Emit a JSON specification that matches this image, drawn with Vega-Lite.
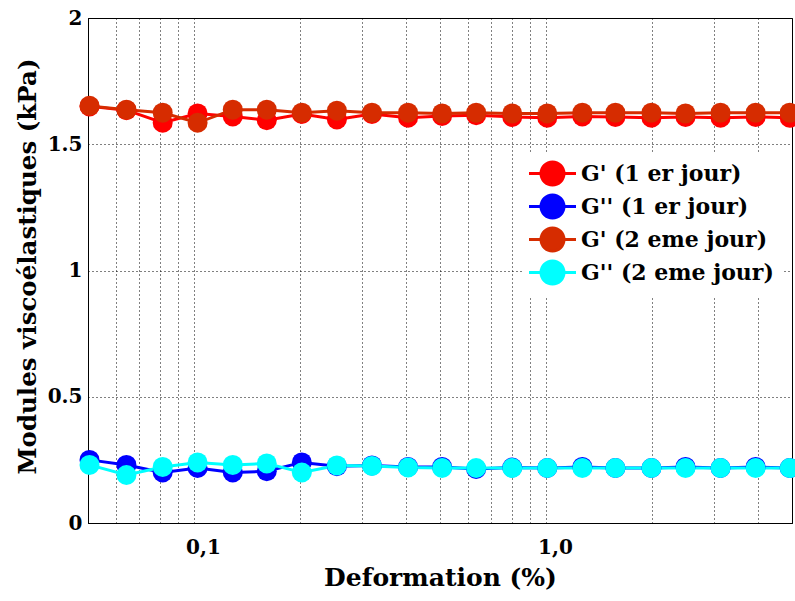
{
  "$schema": "https://vega.github.io/schema/vega-lite/v6.json",
  "width": 704,
  "height": 505,
  "autosize": {"type": "none"},
  "padding": {"left": 88, "top": 18, "right": 3, "bottom": 78},
  "background": "white",
  "config": {"view": {"stroke": "black", "strokeWidth": 1}, "font": "DejaVu Serif"},
  "data": {"values": [
    {"x": 0.0505, "v": 1.65, "s": "G' (1 er jour)"},
    {"x": 0.0643, "v": 1.635, "s": "G' (1 er jour)"},
    {"x": 0.0815, "v": 1.585, "s": "G' (1 er jour)"},
    {"x": 0.1024, "v": 1.622, "s": "G' (1 er jour)"},
    {"x": 0.1289, "v": 1.61, "s": "G' (1 er jour)"},
    {"x": 0.161, "v": 1.595, "s": "G' (1 er jour)"},
    {"x": 0.2025, "v": 1.62, "s": "G' (1 er jour)"},
    {"x": 0.2547, "v": 1.598, "s": "G' (1 er jour)"},
    {"x": 0.3204, "v": 1.62, "s": "G' (1 er jour)"},
    {"x": 0.4057, "v": 1.605, "s": "G' (1 er jour)"},
    {"x": 0.5069, "v": 1.612, "s": "G' (1 er jour)"},
    {"x": 0.6334, "v": 1.615, "s": "G' (1 er jour)"},
    {"x": 0.802, "v": 1.608, "s": "G' (1 er jour)"},
    {"x": 1.0086, "v": 1.605, "s": "G' (1 er jour)"},
    {"x": 1.2687, "v": 1.61, "s": "G' (1 er jour)"},
    {"x": 1.575, "v": 1.608, "s": "G' (1 er jour)"},
    {"x": 1.994, "v": 1.605, "s": "G' (1 er jour)"},
    {"x": 2.491, "v": 1.608, "s": "G' (1 er jour)"},
    {"x": 3.133, "v": 1.605, "s": "G' (1 er jour)"},
    {"x": 3.941, "v": 1.608, "s": "G' (1 er jour)"},
    {"x": 4.925, "v": 1.605, "s": "G' (1 er jour)"},
    {"x": 0.0505, "v": 0.25, "s": "G'' (1 er jour)"},
    {"x": 0.0643, "v": 0.23, "s": "G'' (1 er jour)"},
    {"x": 0.0815, "v": 0.2, "s": "G'' (1 er jour)"},
    {"x": 0.1024, "v": 0.218, "s": "G'' (1 er jour)"},
    {"x": 0.1289, "v": 0.2, "s": "G'' (1 er jour)"},
    {"x": 0.161, "v": 0.205, "s": "G'' (1 er jour)"},
    {"x": 0.2025, "v": 0.24, "s": "G'' (1 er jour)"},
    {"x": 0.2547, "v": 0.225, "s": "G'' (1 er jour)"},
    {"x": 0.3204, "v": 0.228, "s": "G'' (1 er jour)"},
    {"x": 0.4057, "v": 0.222, "s": "G'' (1 er jour)"},
    {"x": 0.5069, "v": 0.222, "s": "G'' (1 er jour)"},
    {"x": 0.6334, "v": 0.214, "s": "G'' (1 er jour)"},
    {"x": 0.802, "v": 0.22, "s": "G'' (1 er jour)"},
    {"x": 1.0086, "v": 0.218, "s": "G'' (1 er jour)"},
    {"x": 1.2687, "v": 0.222, "s": "G'' (1 er jour)"},
    {"x": 1.575, "v": 0.218, "s": "G'' (1 er jour)"},
    {"x": 1.994, "v": 0.218, "s": "G'' (1 er jour)"},
    {"x": 2.491, "v": 0.222, "s": "G'' (1 er jour)"},
    {"x": 3.133, "v": 0.218, "s": "G'' (1 er jour)"},
    {"x": 3.941, "v": 0.222, "s": "G'' (1 er jour)"},
    {"x": 4.925, "v": 0.218, "s": "G'' (1 er jour)"},
    {"x": 0.0505, "v": 1.652, "s": "G' (2 eme jour)"},
    {"x": 0.0643, "v": 1.637, "s": "G' (2 eme jour)"},
    {"x": 0.0815, "v": 1.625, "s": "G' (2 eme jour)"},
    {"x": 0.1024, "v": 1.585, "s": "G' (2 eme jour)"},
    {"x": 0.1289, "v": 1.637, "s": "G' (2 eme jour)"},
    {"x": 0.161, "v": 1.637, "s": "G' (2 eme jour)"},
    {"x": 0.2025, "v": 1.625, "s": "G' (2 eme jour)"},
    {"x": 0.2547, "v": 1.633, "s": "G' (2 eme jour)"},
    {"x": 0.3204, "v": 1.625, "s": "G' (2 eme jour)"},
    {"x": 0.4057, "v": 1.625, "s": "G' (2 eme jour)"},
    {"x": 0.5069, "v": 1.622, "s": "G' (2 eme jour)"},
    {"x": 0.6334, "v": 1.625, "s": "G' (2 eme jour)"},
    {"x": 0.802, "v": 1.622, "s": "G' (2 eme jour)"},
    {"x": 1.0086, "v": 1.622, "s": "G' (2 eme jour)"},
    {"x": 1.2687, "v": 1.625, "s": "G' (2 eme jour)"},
    {"x": 1.575, "v": 1.625, "s": "G' (2 eme jour)"},
    {"x": 1.994, "v": 1.625, "s": "G' (2 eme jour)"},
    {"x": 2.491, "v": 1.622, "s": "G' (2 eme jour)"},
    {"x": 3.133, "v": 1.625, "s": "G' (2 eme jour)"},
    {"x": 3.941, "v": 1.625, "s": "G' (2 eme jour)"},
    {"x": 4.925, "v": 1.625, "s": "G' (2 eme jour)"},
    {"x": 0.0505, "v": 0.23, "s": "G'' (2 eme jour)"},
    {"x": 0.0643, "v": 0.19, "s": "G'' (2 eme jour)"},
    {"x": 0.0815, "v": 0.222, "s": "G'' (2 eme jour)"},
    {"x": 0.1024, "v": 0.24, "s": "G'' (2 eme jour)"},
    {"x": 0.1289, "v": 0.23, "s": "G'' (2 eme jour)"},
    {"x": 0.161, "v": 0.236, "s": "G'' (2 eme jour)"},
    {"x": 0.2025, "v": 0.2, "s": "G'' (2 eme jour)"},
    {"x": 0.2547, "v": 0.228, "s": "G'' (2 eme jour)"},
    {"x": 0.3204, "v": 0.226, "s": "G'' (2 eme jour)"},
    {"x": 0.4057, "v": 0.22, "s": "G'' (2 eme jour)"},
    {"x": 0.5069, "v": 0.218, "s": "G'' (2 eme jour)"},
    {"x": 0.6334, "v": 0.218, "s": "G'' (2 eme jour)"},
    {"x": 0.802, "v": 0.218, "s": "G'' (2 eme jour)"},
    {"x": 1.0086, "v": 0.218, "s": "G'' (2 eme jour)"},
    {"x": 1.2687, "v": 0.218, "s": "G'' (2 eme jour)"},
    {"x": 1.575, "v": 0.218, "s": "G'' (2 eme jour)"},
    {"x": 1.994, "v": 0.218, "s": "G'' (2 eme jour)"},
    {"x": 2.491, "v": 0.218, "s": "G'' (2 eme jour)"},
    {"x": 3.133, "v": 0.218, "s": "G'' (2 eme jour)"},
    {"x": 3.941, "v": 0.218, "s": "G'' (2 eme jour)"},
    {"x": 4.925, "v": 0.218, "s": "G'' (2 eme jour)"}
  ]},
  "encoding": {
    "color": {
      "field": "s",
      "type": "nominal",
      "scale": {
        "domain": ["G' (1 er jour)", "G'' (1 er jour)", "G' (2 eme jour)", "G'' (2 eme jour)"],
        "range": ["#ff0000", "#0000ff", "#d62c00", "#00ffff"]
      },
      "legend": {
        "orient": "none",
        "legendX": 434,
        "legendY": 136,
        "title": null,
        "fillColor": "white",
        "padding": 8,
        "symbolType": "M -2.35 0 L 2.35 0 M -1.15 0 A 1.15 1.15 0 1 1 1.15 0 A 1.15 1.15 0 1 1 -1.15 0 Z",
        "symbolSize": 400,
        "symbolStrokeWidth": 3,
        "symbolOffset": 11,
        "labelOffset": 17,
        "labelFont": "DejaVu Serif",
        "labelFontSize": 22,
        "labelFontWeight": "bold",
        "labelColor": "black",
        "labelLimit": 400,
        "rowPadding": -2,
        "encode": {
          "symbols": {
            "update": {
              "fill": {"scale": "color", "field": "value"},
              "stroke": {"scale": "color", "field": "value"},
              "opacity": {"value": 1}
            }
          }
        }
      }
    }
  },
  "layer": [
    {
      "mark": {"type": "line", "strokeWidth": 3},
      "encoding": {
        "x": {
          "field": "x",
          "type": "quantitative",
          "scale": {"type": "log", "domain": [0.05, 5], "nice": false},
          "axis": {
            "orient": "bottom",
            "values": [0.05, 0.06, 0.07, 0.08, 0.09, 0.1, 0.2, 0.3, 0.4, 0.5, 0.6, 0.7, 0.8, 0.9, 1, 2, 3, 4, 5],
            "labelExpr": "datum.value == 0.1 ? '0,1' : (datum.value == 1 ? '1,0' : '')",
            "labelOverlap": false,
            "labelFlush": false,
            "labelFont": "DejaVu Serif",
            "labelFontSize": 20,
            "labelFontWeight": "bold",
            "labelColor": "black",
            "labelPadding": 14,
            "labelOffset": 9,
            "ticks": false,
            "domainColor": "black",
            "grid": true,
            "gridColor": "black",
            "gridDash": [1, 3],
            "gridOpacity": 1,
            "title": "Deformation (%)",
            "titleFont": "DejaVu Serif",
            "titleFontSize": 25,
            "titleFontWeight": "bold",
            "titleColor": "black",
            "titleBaseline": "middle",
            "titleY": 54
          }
        },
        "y": {
          "field": "v",
          "type": "quantitative",
          "scale": {"domain": [0, 2], "nice": false},
          "axis": {
            "orient": "left",
            "values": [0, 0.5, 1, 1.5, 2],
            "format": "~g",
            "labelFont": "DejaVu Serif",
            "labelFontSize": 20,
            "labelFontWeight": "bold",
            "labelColor": "black",
            "labelPadding": 6,
            "ticks": false,
            "domainColor": "black",
            "grid": true,
            "gridColor": "black",
            "gridDash": [1, 3],
            "gridOpacity": 1,
            "title": "Modules viscoélastiques (kPa)",
            "titleFont": "DejaVu Serif",
            "titleFontSize": 24.5,
            "titleFontWeight": "bold",
            "titleColor": "black",
            "titleBaseline": "middle",
            "titleX": -60,
            "titleY": 248
          }
        }
      }
    },
    {
      "mark": {"type": "point", "filled": true, "size": 400, "opacity": 1, "shape": "circle"},
      "encoding": {
        "x": {
          "field": "x",
          "type": "quantitative",
          "axis": {
            "orient": "top",
            "values": [0.05, 0.06, 0.07, 0.08, 0.09, 0.1, 0.2, 0.3, 0.4, 0.5, 0.6, 0.7, 0.8, 0.9, 1, 2, 3, 4, 5],
            "labels": false,
            "grid": false,
            "domain": false,
            "ticks": false,
            "title": null
          }
        },
        "y": {
          "field": "v",
          "type": "quantitative",
          "axis": {
            "orient": "right",
            "values": [0, 0.5, 1, 1.5, 2],
            "labels": false,
            "grid": false,
            "domain": false,
            "ticks": false,
            "title": null
          }
        }
      }
    }
  ],
  "resolve": {"axis": {"x": "independent", "y": "independent"}}
}
